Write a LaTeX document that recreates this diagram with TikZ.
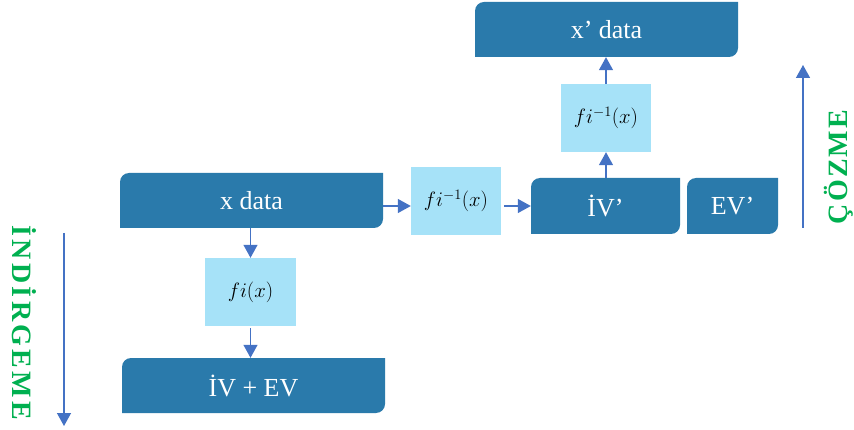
\documentclass[tikz,border=0pt]{standalone}
\usepackage{fontspec}
\setmainfont{Liberation Serif}
\newfontfamily\spacedserif[LetterSpace=12]{Liberation Serif}
\newfontfamily\tightserif[LetterSpace=8]{Liberation Serif}
\usetikzlibrary{arrows.meta}

\definecolor{boxblue}{HTML}{2A7AAB}
\definecolor{lightblue}{HTML}{A6E2F8}
\definecolor{arrowblue}{HTML}{4472C4}
\definecolor{labelgreen}{HTML}{00B050}

\tikzset{
  darkbox/.style={
    inner sep=0pt, text=white,
    font=\fontsize{26}{30}\selectfont,
    path picture={
      \fill[boxblue] (path picture bounding box.south west)
        -- ([yshift=-9pt]path picture bounding box.north west)
        arc[start angle=180, end angle=90, radius=9pt]
        -- (path picture bounding box.north east)
        -- ([yshift=9pt]path picture bounding box.south east)
        arc[start angle=0, end angle=-90, radius=9pt]
        -- cycle;
    }
  },
  funcbox/.style={
    inner sep=0pt, fill=lightblue, text=black,
    minimum width=90pt, minimum height=68pt,
    font=\fontsize{19.5}{24}\selectfont
  },
  flow/.style={
    draw=arrowblue, line width=1.4pt,
    -{Triangle[length=13pt, width=14pt, fill=arrowblue]}
  },
  sidelabel/.style={
    text=labelgreen, inner sep=0pt
  }
}

\begin{document}
\begin{tikzpicture}[x=1pt, y=1pt]
  \useasboundingbox (0,0) rectangle (854,-430);

  % reduction branch
  \node[darkbox, minimum width=263pt, minimum height=55pt] (xdata) at (251.5,-200.5) {x data};
  \node[funcbox, minimum width=91pt] (fi) at (250.5,-292) {$fi(x)$};
  \node[darkbox, minimum width=263pt, minimum height=55pt] (ivev) at (253.5,-385.5) {İV + EV};

  % solution branch
  \node[funcbox] (inv) at (456,-201) {$fi^{-1}(x)$};
  \node[darkbox, minimum width=149pt, minimum height=56pt] (ivp) at (605.5,-206) {İV’};
  \node[darkbox, minimum width=91pt, minimum height=56pt] (evp) at (732.5,-206) {EV’};
  \node[funcbox] (invup) at (606,-118) {$fi^{-1}(x)$};
  \node[darkbox, minimum width=263pt, minimum height=55pt] (xpdata) at (606.5,-29.5) {x’ data};

  % connectors
  \draw[flow] (xdata.south -| fi.north) -- (fi.north);
  \draw[flow, shorten <=2pt] (fi.south) -- (fi.south |- ivev.north);
  \draw[flow] (xdata.east |- ivp.west) -- (inv.west |- ivp.west);
  \draw[flow, shorten <=3pt] (inv.east |- ivp.west) -- (ivp.west);
  \draw[flow] (ivp.north -| invup.south) -- (invup.south);
  \draw[flow] (invup.north) -- (invup.north |- xpdata.south);

  % direction markers
  \coordinate (downtop) at (64,-233);
  \coordinate (downend) at (64,-426);
  \coordinate (uptop) at (803,-65);
  \coordinate (upend) at (803,-228);
  \draw[flow] (downtop) -- (downend);
  \draw[flow] (upend) -- (uptop);

  \node[sidelabel, rotate=-90, font=\fontsize{28}{32}\spacedserif\bfseries] (reduce) at (24,-323) {İNDİRGEME};
  \node[sidelabel, rotate=90, font=\fontsize{28}{32}\tightserif\bfseries] (solve) at (839,-167) {ÇÖZME};
\end{tikzpicture}
\end{document}
